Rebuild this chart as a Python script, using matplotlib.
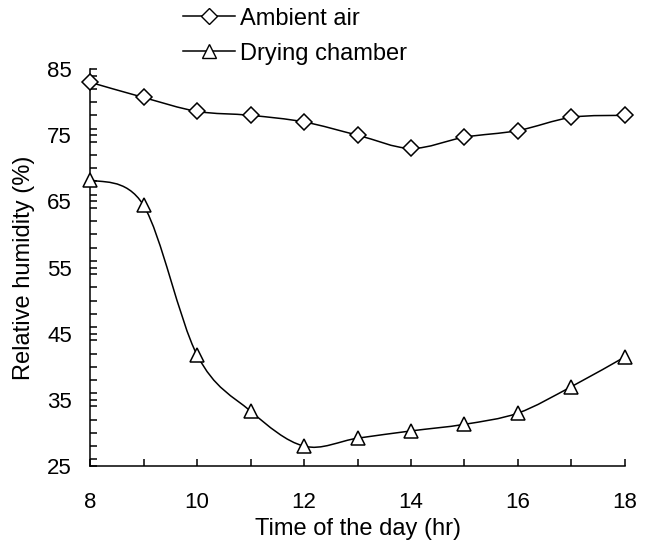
import numpy as np
import matplotlib
matplotlib.use("Agg")
import matplotlib.pyplot as plt
from matplotlib.path import Path
from matplotlib.patches import PathPatch
from matplotlib.lines import Line2D
from matplotlib.ticker import MultipleLocator

# data
hours = [8, 9, 10, 11, 12, 13, 14, 15, 16, 17, 18]
ambient = [83.0, 80.7, 78.6, 78.0, 77.0, 75.0, 73.0, 74.7, 75.7, 77.7, 78.0]
chamber = [68.3, 64.4, 41.8, 33.3, 28.0, 29.2, 30.3, 31.3, 33.0, 37.0, 41.5]

plt.rcParams['font.family'] = ['Liberation Sans Narrow', 'Liberation Sans', 'DejaVu Sans']


def smooth_path(x, y):
    # Excel style smoothed line: cubic bezier with catmull-rom control points
    x = np.asarray(x, float)
    y = np.asarray(y, float)
    verts = [(x[0], y[0])]
    codes = [Path.MOVETO]
    n = len(x)
    for i in range(n - 1):
        x0, y0 = (x[i - 1], y[i - 1]) if i > 0 else (x[i], y[i])
        x3, y3 = (x[i + 2], y[i + 2]) if i + 2 < n else (x[i + 1], y[i + 1])
        c1 = (x[i] + (x[i + 1] - x0) / 6, y[i] + (y[i + 1] - y0) / 6)
        c2 = (x[i + 1] - (x3 - x[i]) / 6, y[i + 1] - (y3 - y[i]) / 6)
        verts += [c1, c2, (x[i + 1], y[i + 1])]
        codes += [Path.CURVE4] * 3
    return Path(verts, codes)


fig = plt.figure(figsize=(6.49, 5.49), dpi=100)
ax = fig.add_axes([0.1387, 0.1512, 0.8243, 0.7231])

for ys, mk, ms in [(ambient, 'D', 8), (chamber, '^', 9.5)]:
    ax.add_patch(PathPatch(smooth_path(hours, ys), fill=False, lw=1.1, color='black', zorder=2))
    ax.plot(hours, ys, ls='none', marker=mk, ms=ms, mfc='white', mec='black', mew=1.1,
            zorder=3, clip_on=False)

ax.set_xlim(8, 18)
ax.set_ylim(25, 85)
ax.xaxis.set_major_locator(MultipleLocator(2))
ax.xaxis.set_minor_locator(MultipleLocator(1))
ax.yaxis.set_minor_locator(MultipleLocator(2))
ax.set_yticks([25, 35, 45, 55, 65, 75, 85])
ax.tick_params(direction='in', which='both', labelsize=16, width=1.1, color='black')
ax.tick_params(axis='x', which='both', length=5, pad=19)
ax.tick_params(axis='y', which='both', length=5, pad=13)
ax.spines['top'].set_visible(False)
ax.spines['right'].set_visible(False)
for s in ['left', 'bottom']:
    ax.spines[s].set_linewidth(1.1)

ax.set_xlabel('Time of the day (hr)', fontsize=17, labelpad=3)
ax.set_ylabel('Relative humidity (%)', fontsize=17, labelpad=9)

handles = [
    Line2D([], [], color='black', lw=1.1, marker='D', ms=8, mfc='white', mec='black'),
    Line2D([], [], color='black', lw=1.1, marker='^', ms=9.5, mfc='white', mec='black'),
]
fig.legend(handles, ['Ambient air', 'Drying chamber'], loc='upper left',
           bbox_to_anchor=(0.249, 1.025), frameon=False, fontsize=17,
           handlelength=2.2, handletextpad=0.2, labelspacing=0.55)

fig.savefig('out.png', dpi=100)
